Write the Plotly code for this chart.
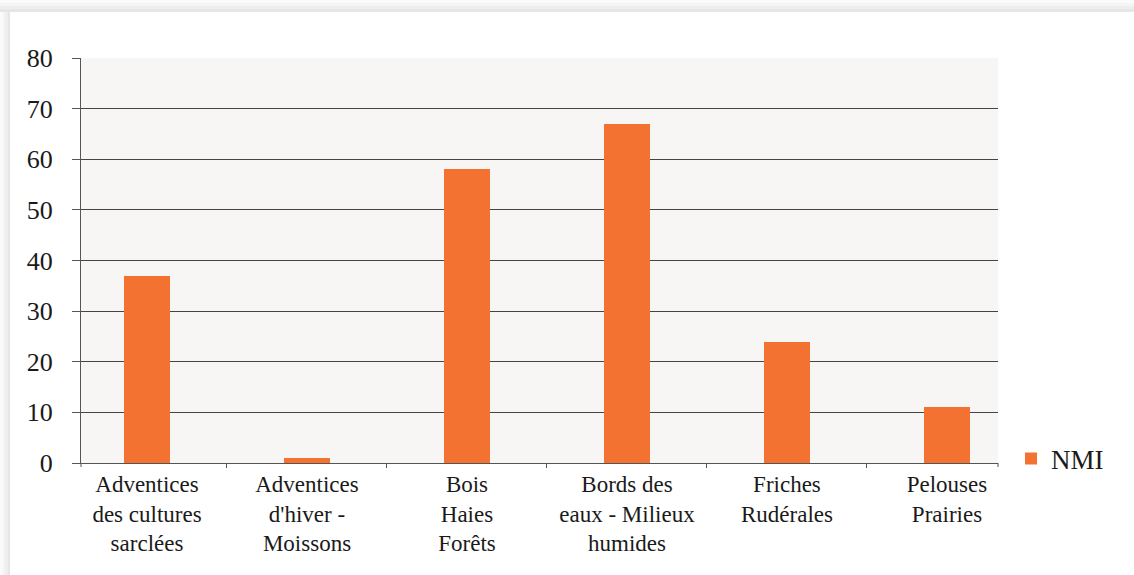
import plotly.graph_objects as go

# Habitat groups and NMI counts
categories = [
    "Adventices<br>des cultures<br>sarclées",
    "Adventices<br>d'hiver -<br>Moissons",
    "Bois<br>Haies<br>Forêts",
    "Bords des<br>eaux - Milieux<br>humides",
    "Friches<br>Rudérales",
    "Pelouses<br>Prairies",
]
nmi = [37, 1, 58, 67, 24, 11]
series_name = "NMI"

W, H = 1134, 575
ML, MR, MT, MB = 81, 136, 58, 112
PW = W - ML - MR
PH = H - MT - MB

FONT = "Liberation Serif, Times New Roman, DejaVu Serif, serif"
TXT = "#1a1a1a"
ORANGE = "#f37231"
AXIS = "#555555"

fig = go.Figure()
fig.add_trace(go.Bar(
    x=categories, y=nmi, name=series_name,
    marker=dict(color=ORANGE, line=dict(width=0)),
    width=0.29, showlegend=True,
))


def py(p):
    """pixel row -> paper y"""
    return (H - MB - p) / PH


def px(p):
    """pixel column -> paper x"""
    return (p - ML) / PW


shapes = []
greys = ["#fbfbfb", "#f5f5f5", "#eeeeee", "#e6e6e6"]
# soft shadow along the top and left edges of the card
for i, g in enumerate(greys):
    shapes.append(dict(type="rect", xref="paper", yref="paper", layer="below",
                       x0=px(0), x1=px(W), y0=py(3 * i + 3), y1=py(3 * i),
                       line=dict(width=0), fillcolor=g))
for i, g in enumerate(greys):
    shapes.append(dict(type="rect", xref="paper", yref="paper", layer="below",
                       x0=px(2.5 * i), x1=px(2.5 * i + 2.5), y0=py(H), y1=py(12),
                       line=dict(width=0), fillcolor=g))
# end ticks at both ends of the category axis
for xp in (ML, ML + PW):
    shapes.append(dict(type="line", xref="paper", yref="paper",
                       x0=px(xp), x1=px(xp), y0=0, y1=py(H - MB + 4),
                       line=dict(color=AXIS, width=1)))

fig.update_layout(
    width=W, height=H,
    margin=dict(l=ML, r=MR, t=MT, b=MB),
    paper_bgcolor="white",
    plot_bgcolor="#f7f6f4",
    font=dict(family=FONT, color=TXT, size=23),
    bargap=0,
    shapes=shapes,
    xaxis=dict(
        type="category",
        range=[-0.4125, 5.319],
        showline=True, linecolor=AXIS, linewidth=1,
        ticks="outside", tickson="boundaries", ticklen=4,
        tickcolor=AXIS, tickwidth=1,
        showgrid=False,
        tickfont=dict(family=FONT, size=23, color=TXT),
        tickangle=0,
    ),
    yaxis=dict(
        range=[0, 80], dtick=10, tick0=0,
        showline=True, linecolor=AXIS, linewidth=1,
        ticks="outside", ticklen=8, tickcolor=AXIS, tickwidth=1,
        showgrid=True, gridcolor="#444444", gridwidth=1,
        zeroline=False,
        tickfont=dict(family=FONT, size=26, color=TXT),
        ticklabelstandoff=14,
    ),
    legend=dict(
        xref="container", yref="container",
        x=1011 / W, y=1 - 459 / H,
        xanchor="left", yanchor="middle",
        font=dict(family=FONT, size=27, color=TXT),
        bgcolor="rgba(0,0,0,0)",
    ),
)

fig.write_html("out.html")
